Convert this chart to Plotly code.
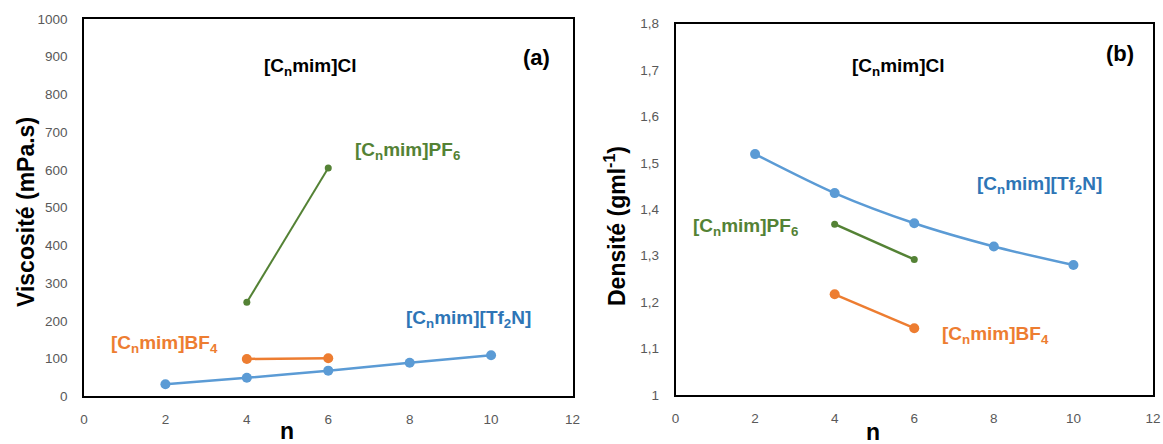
import plotly.graph_objects as go

# ---- data ----
n_tf2n = [2, 4, 6, 8, 10]
n_pair = [4, 6]
visc_tf2n = [32, 49, 68, 89, 109]
visc_bf4 = [99, 101]
visc_pf6 = [249, 605]
dens_tf2n = [1.519, 1.435, 1.370, 1.320, 1.280]
dens_pf6 = [1.368, 1.292]
dens_bf4 = [1.217, 1.144]

x_ticks = [0, 2, 4, 6, 8, 10, 12]
visc_ticks = [0, 100, 200, 300, 400, 500, 600, 700, 800, 900, 1000]
dens_ticks = [1.0, 1.1, 1.2, 1.3, 1.4, 1.5, 1.6, 1.7, 1.8]
dens_ticktext = ["1", "1,1", "1,2", "1,3", "1,4", "1,5", "1,6", "1,7", "1,8"]

BLUE = "#5B9BD5"
BLUE_TXT = "#2E75B6"
ORANGE = "#ED7D31"
GREEN = "#548235"
TICK = "#595959"
FONT = "Liberation Sans"

fig = go.Figure()

# left panel
fig.add_trace(go.Scatter(x=n_tf2n, y=visc_tf2n, mode="lines+markers", line=dict(color=BLUE, width=2.5, shape="spline", smoothing=0.5),
                         marker=dict(size=10, color=BLUE), xaxis="x", yaxis="y", showlegend=False))
fig.add_trace(go.Scatter(x=n_pair, y=visc_bf4, mode="lines+markers", line=dict(color=ORANGE, width=2.5),
                         marker=dict(size=10, color=ORANGE), xaxis="x", yaxis="y", showlegend=False))
fig.add_trace(go.Scatter(x=n_pair, y=visc_pf6, mode="lines+markers", line=dict(color=GREEN, width=2),
                         marker=dict(size=7, color=GREEN), xaxis="x", yaxis="y", showlegend=False))

# right panel
fig.add_trace(go.Scatter(x=n_tf2n, y=dens_tf2n, mode="lines+markers", line=dict(color=BLUE, width=2.5, shape="spline", smoothing=0.8),
                         marker=dict(size=10, color=BLUE), xaxis="x2", yaxis="y2", showlegend=False))
fig.add_trace(go.Scatter(x=n_pair, y=dens_pf6, mode="lines+markers", line=dict(color=GREEN, width=2.5),
                         marker=dict(size=7, color=GREEN), xaxis="x2", yaxis="y2", showlegend=False))
fig.add_trace(go.Scatter(x=n_pair, y=dens_bf4, mode="lines+markers", line=dict(color=ORANGE, width=2.5),
                         marker=dict(size=10, color=ORANGE), xaxis="x2", yaxis="y2", showlegend=False))

# page body margin is removed in post_script, so figure pixels == page pixels
W, H = 1163, 444

def fx(x):
    return x / W

def fy(y):
    return 1 - y / H

def axis_common():
    return dict(showline=True, linecolor="black", linewidth=1.5, mirror=True, showgrid=False, zeroline=False,
                automargin=False, ticks="", tickfont=dict(family=FONT, size=13.5, color=TICK))

fig.update_layout(
    width=W, height=H, margin=dict(l=0, r=0, t=0, b=0),
    paper_bgcolor="white", plot_bgcolor="white",
    xaxis=dict(domain=[fx(84), fx(572.5)], range=[0, 12], tickvals=x_ticks, anchor="y", ticklabelstandoff=10, **axis_common()),
    yaxis=dict(domain=[fy(396.3), fy(19)], range=[0, 1000], tickvals=visc_ticks, anchor="x", ticklabelstandoff=12, **axis_common()),
    xaxis2=dict(domain=[fx(675.5), fx(1153)], range=[0, 12], tickvals=x_ticks, anchor="y2", ticklabelstandoff=10, **axis_common()),
    yaxis2=dict(domain=[fy(395), fy(23.7)], range=[1.0, 1.8], tickvals=dens_ticks, ticktext=dens_ticktext,
                anchor="x2", ticklabelstandoff=12, **axis_common()),
)

def ann(x, y, text, color="black", size=19, angle=0):
    fig.add_annotation(x=fx(x), y=fy(y), xref="paper", yref="paper", text=text, showarrow=False,
                       font=dict(family=FONT, size=size, color=color), textangle=angle, xanchor="center", yanchor="middle")

# axis titles
ann(26, 212, "<b>Viscosité (mPa.s)</b>", size=23, angle=-90)
ann(287, 431, "<b>n</b>", size=23)
ann(615, 226, "<b>Densité (gml<sup>-1</sup>)</b>", size=23, angle=-90)
ann(873, 432, "<b>n</b>", size=23)

# series labels, left
ann(310, 67, "<b>[C<sub>n</sub>mim]Cl</b>", size=19)
ann(536, 57, "<b>(a)</b>", size=22)
ann(407, 151, "<b>[C<sub>n</sub>mim]PF<sub>6</sub></b>", color=GREEN)
ann(468, 319, "<b>[C<sub>n</sub>mim][Tf<sub>2</sub>N]</b>", color=BLUE_TXT)
ann(164, 344, "<b>[C<sub>n</sub>mim]BF<sub>4</sub></b>", color=ORANGE)

# series labels, right
ann(898, 67, "<b>[C<sub>n</sub>mim]Cl</b>", size=19)
ann(1120, 54, "<b>(b)</b>", size=22)
ann(1039, 185, "<b>[C<sub>n</sub>mim][Tf<sub>2</sub>N]</b>", color=BLUE_TXT)
ann(746, 227, "<b>[C<sub>n</sub>mim]PF<sub>6</sub></b>", color=GREEN)
ann(995, 335, "<b>[C<sub>n</sub>mim]BF<sub>4</sub></b>", color=ORANGE)

fig.write_html("out.html", config={"displayModeBar": False},
               post_script="document.body.style.margin='0';document.body.style.overflow='hidden';")
